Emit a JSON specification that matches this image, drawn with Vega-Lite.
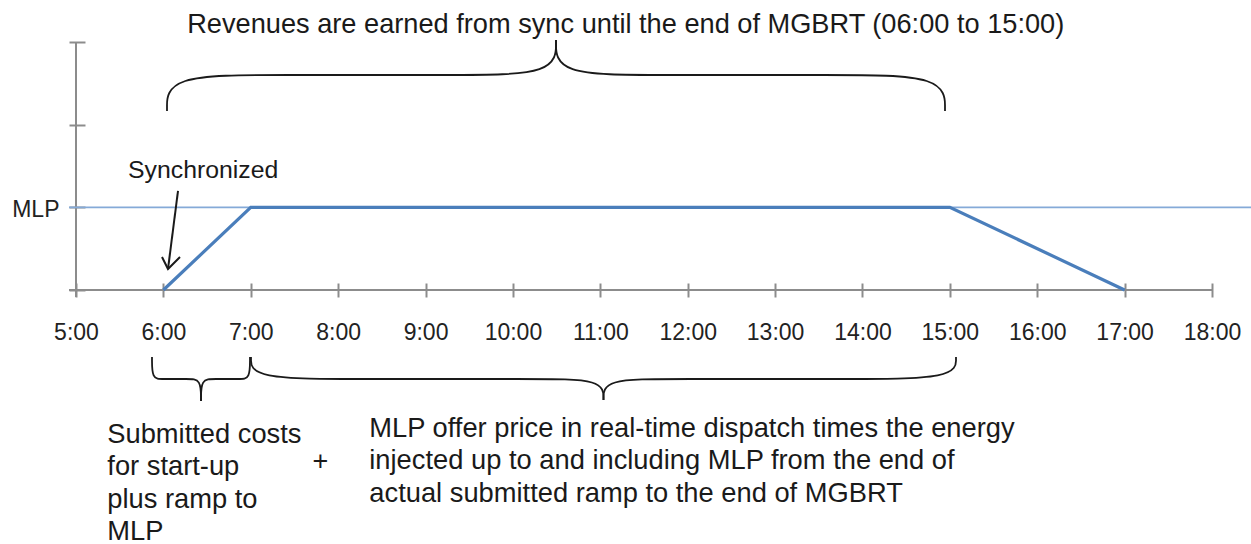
{
  "$schema": "https://vega.github.io/schema/vega-lite/v6.json",
  "width": 1251,
  "height": 544,
  "autosize": {"type": "none"},
  "padding": 0,
  "background": "white",
  "config": {"view": {"stroke": null}, "font": "Liberation Sans"},
  "datasets": {
    "series": [{"x": 6, "y": 0}, {"x": 7, "y": 1}, {"x": 15, "y": 1}, {"x": 17, "y": 0}],
    "axisLines": [{"x": 4.92, "x2": 18, "y": 0, "y2": 0}, {"x": 5, "x2": 5, "y": -0.085, "y2": 3.0}],
    "mlp": [{"x": 4.92, "x2": 18.45, "y": 1, "y2": 1}],
    "braces": [
      {"part": "topL", "i": 0, "x": 6.0414, "y": 2.1653},
      {"part": "topL", "i": 1, "x": 6.0414, "y": 2.6008},
      {"part": "topL", "i": 2, "x": 7.3002, "y": 2.6008},
      {"part": "topL", "i": 3, "x": 9.3486, "y": 2.6008},
      {"part": "topL", "i": 4, "x": 10.493, "y": 2.6008},
      {"part": "topL", "i": 5, "x": 10.493, "y": 3.0242},
      {"part": "topR", "i": 0, "x": 14.9445, "y": 2.1653},
      {"part": "topR", "i": 1, "x": 14.9445, "y": 2.6008},
      {"part": "topR", "i": 2, "x": 13.6857, "y": 2.6008},
      {"part": "topR", "i": 3, "x": 11.6373, "y": 2.6008},
      {"part": "topR", "i": 4, "x": 10.493, "y": 2.6008},
      {"part": "topR", "i": 5, "x": 10.493, "y": 3.0242},
      {"part": "smallL", "i": 0, "x": 5.8697, "y": -0.8105},
      {"part": "smallL", "i": 1, "x": 5.8697, "y": -1.0766},
      {"part": "smallL", "i": 2, "x": 5.9842, "y": -1.0766},
      {"part": "smallL", "i": 3, "x": 6.2817, "y": -1.0766},
      {"part": "smallL", "i": 4, "x": 6.4305, "y": -1.0766},
      {"part": "smallL", "i": 5, "x": 6.4305, "y": -1.3427},
      {"part": "smallR", "i": 0, "x": 6.9912, "y": -0.8105},
      {"part": "smallR", "i": 1, "x": 6.9912, "y": -1.0766},
      {"part": "smallR", "i": 2, "x": 6.8768, "y": -1.0766},
      {"part": "smallR", "i": 3, "x": 6.5792, "y": -1.0766},
      {"part": "smallR", "i": 4, "x": 6.4305, "y": -1.0766},
      {"part": "smallR", "i": 5, "x": 6.4305, "y": -1.3427},
      {"part": "bigL", "i": 0, "x": 7.0026, "y": -0.8105},
      {"part": "bigL", "i": 1, "x": 7.0026, "y": -1.0766},
      {"part": "bigL", "i": 2, "x": 8.2614, "y": -1.0766},
      {"part": "bigL", "i": 3, "x": 10.2355, "y": -1.0766},
      {"part": "bigL", "i": 4, "x": 11.0365, "y": -1.0766},
      {"part": "bigL", "i": 5, "x": 11.0365, "y": -1.3306},
      {"part": "bigR", "i": 0, "x": 15.0704, "y": -0.8105},
      {"part": "bigR", "i": 1, "x": 15.0704, "y": -1.0766},
      {"part": "bigR", "i": 2, "x": 13.8116, "y": -1.0766},
      {"part": "bigR", "i": 3, "x": 11.8376, "y": -1.0766},
      {"part": "bigR", "i": 4, "x": 11.0365, "y": -1.0766},
      {"part": "bigR", "i": 5, "x": 11.0365, "y": -1.3306}
    ],
    "arrow": [
      {"part": "shaft", "i": 0, "x": 6.1673, "y": 1.1976},
      {"part": "shaft", "i": 1, "x": 6.0528, "y": 0.254},
      {"part": "head", "i": 0, "x": 5.9842, "y": 0.3992},
      {"part": "head", "i": 1, "x": 6.0528, "y": 0.254},
      {"part": "head", "i": 2, "x": 6.1901, "y": 0.3992}
    ],
    "title": [{"x": 11.291, "y": 3.1089, "label": "Revenues are earned from sync until the end of MGBRT (06:00 to 15:00)"}],
    "sync": [{"x": 5.5951, "y": 1.3548, "label": "Synchronized"}],
    "notes": [
      {"x": 5.3582, "y": -1.8472, "label": "Submitted costs\nfor start-up\nplus ramp to\nMLP"},
      {"x": 8.3565, "y": -1.7746, "label": "MLP offer price in real-time dispatch times the energy\ninjected up to and including MLP from the end of\nactual submitted ramp to the end of MGBRT"}
    ],
    "plus": [{"x": 7.7957, "y": -2.077, "label": "+"}]
  },
  "encoding": {
    "x": {
      "field": "x", "type": "quantitative", "title": null,
      "scale": {"domain": [4.1303, 18.4463], "nice": false, "zero": false},
      "axis": {
        "orient": "bottom", "offset": -261, "values": [5, 6, 7, 8, 9, 10, 11, 12, 13, 14, 15, 16, 17, 18],
        "labelExpr": "datum.value + ':00'", "domain": false, "grid": false, "ticks": true,
        "tickSize": 14, "tickColor": "#8c8c8c", "tickWidth": 2, "labelPadding": 24,
        "labelFont": "Liberation Sans", "labelFontSize": 23, "labelColor": "#222222",
        "labelFlush": false, "labelOverlap": false, "labelBound": false, "title": null
      }
    },
    "y": {
      "field": "y", "type": "quantitative", "title": null,
      "scale": {"domain": [-3.0726, 3.508], "nice": false, "zero": false},
      "axis": {
        "orient": "left", "offset": -85, "values": [0, 1, 2, 3],
        "labelExpr": "datum.value == 1 ? 'MLP' : ''", "domain": false, "grid": false, "ticks": true,
        "tickSize": 16, "tickColor": "#8c8c8c", "tickWidth": 2, "labelPadding": 10,
        "labelFont": "Liberation Sans", "labelFontSize": 23, "labelColor": "#222222", "labelOffset": 2,
        "labelFlush": false, "labelOverlap": false, "labelBound": false, "title": null
      }
    }
  },
  "layer": [
    {
      "data": {"name": "axisLines"},
      "mark": {"type": "rule", "color": "#8c8c8c", "strokeWidth": 2},
      "encoding": {"x2": {"field": "x2"}, "y2": {"field": "y2"}}
    },
    {
      "data": {"name": "mlp"},
      "mark": {"type": "rule", "color": "#85aad8", "strokeWidth": 1.6},
      "encoding": {"x2": {"field": "x2"}, "y2": {"field": "y2"}}
    },
    {
      "data": {"name": "series"},
      "mark": {"type": "line", "color": "#4a7ebb", "strokeWidth": 3.2},
      "encoding": {}
    },
    {
      "data": {"name": "braces"},
      "mark": {"type": "line", "interpolate": "basis", "color": "#1a1a1a", "strokeWidth": 1.8},
      "encoding": {"detail": {"field": "part"}, "order": {"field": "i"}}
    },
    {
      "data": {"name": "arrow"},
      "mark": {"type": "line", "color": "#1a1a1a", "strokeWidth": 2},
      "encoding": {"detail": {"field": "part"}, "order": {"field": "i"}}
    },
    {
      "data": {"name": "title"},
      "mark": {"type": "text", "align": "center", "baseline": "alphabetic", "font": "Liberation Sans", "fontSize": 27.2, "color": "#1a1a1a"},
      "encoding": {"text": {"field": "label"}}
    },
    {
      "data": {"name": "sync"},
      "mark": {"type": "text", "align": "left", "baseline": "alphabetic", "font": "Liberation Sans", "fontSize": 24.8, "color": "#1a1a1a"},
      "encoding": {"text": {"field": "label"}}
    },
    {
      "data": {"name": "notes"},
      "mark": {"type": "text", "align": "left", "baseline": "alphabetic", "font": "Liberation Sans", "fontSize": 27.3, "lineBreak": "\n", "lineHeight": 32.5, "color": "#1a1a1a"},
      "encoding": {"text": {"field": "label"}}
    },
    {
      "data": {"name": "plus"},
      "mark": {"type": "text", "align": "center", "baseline": "middle", "font": "Liberation Sans", "fontSize": 27, "color": "#1a1a1a"},
      "encoding": {"text": {"field": "label"}}
    }
  ]
}
